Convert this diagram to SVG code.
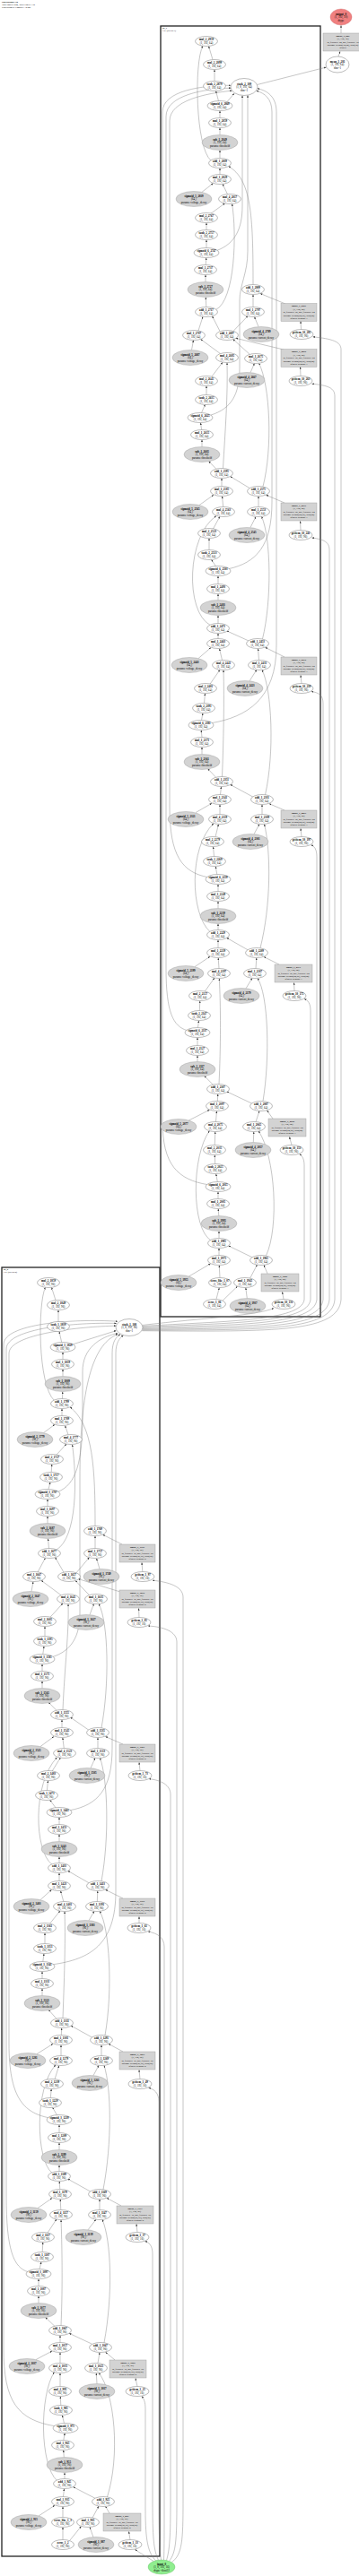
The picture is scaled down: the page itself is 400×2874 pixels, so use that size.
<svg xmlns="http://www.w3.org/2000/svg" width="400" height="2874" viewBox="0 0 400 2874">
<style>
.w{fill:#fff;stroke:#555;stroke-width:.4}
.g{fill:#d3d3d3;stroke:#999;stroke-width:.4}
.b{fill:#d3d3d3;stroke:#999;stroke-width:.4}
.r{fill:#f08080;stroke:#c66;stroke-width:.4}
.gr{fill:#90ee90;stroke:#6b6;stroke-width:.4}
.c{fill:none;stroke:#222;stroke-width:1.3}
text{font-family:"Liberation Serif","Times New Roman",serif;font-size:3.1px;text-anchor:middle;fill:#000}
.n{font-weight:bold}
.s{font-size:2.7px}
.t{text-anchor:start;font-size:2.7px}
#edges path{fill:none;stroke:#808080;stroke-width:.45;marker-end:url(#ah)}
</style>
<defs><marker id="ah" markerWidth="2.4" markerHeight="2" refX="2.4" refY="1" orient="auto" markerUnits="userSpaceOnUse"><path d="M0,0L2.4,1L0,2z" fill="#333"/></marker></defs>
<rect width="400" height="2874" fill="#fff"/>
<g id="title"><text class="t n" x="2" y="3.2">OperationDAG</text><text class="t" x="2" y="6">Total nodes: 244, Total edges: 330</text><text class="t" x="2" y="8.8">Processing at Compile: 14 ms</text></g>
<g id="cluster_lif1"><rect class="c" x="179" y="29" width="178" height="1440"/><text class="t n" x="181" y="32.4">lif_1</text><text class="t" x="181" y="35.2">LIF (layers.1)</text></g>
<g id="cluster_lif0"><rect class="c" x="2" y="1414" width="176" height="1438"/><text class="t n" x="4" y="1417.4">lif_0</text><text class="t" x="4" y="1420.2">LIF (layers.0)</text></g>
<g id="edges">
<path d="M286.5,94.5L363.5,75"/><path d="M377,63L379,57.3"/><path d="M380,37L380,28.3"/>
<path d="M237,66.6L232.5,51.4"/><path d="M235,179C218,165 216,70 226,51.2"/><path d="M253,113.5L261,104.3"/>
<path d="M335.5,367.5L335,358.3"/><path d="M318,339L290,327.5"/><path d="M288,364.5L283.5,353.4"/><path d="M282,342.5L282,328.7"/><path d="M225,214.3L237.5,204.5"/><path d="M253.5,216.7L248,205.2"/><path d="M245,194.5L245,187.7"/><path d="M245,176.5L245,167.7"/><path d="M245,150.5L245,142.7"/><path d="M245,131.5L245,123.7"/><path d="M243.5,112.7L240.5,101.4"/><path d="M239,90.5L239,77.7"/><path d="M282,317.5C282,240 280,200 254.5,185.5"/>
<path d="M235,238.2L250.5,226.9"/><path d="M240.5,345.5C262,335 264,260 258.5,227.4"/><path d="M260,369.4L276,352.6"/>
<path d="M335,419.5L334.5,409.2"/><path d="M316,390L262.5,377.3"/><path d="M279,415.7L283.5,405.4"/><path d="M278.5,395.6L259.5,378.3"/><path d="M213.5,390.5L215.5,379.6"/><path d="M245.5,394.6L223.5,378.4"/><path d="M221,369L226,353.2"/><path d="M245,369.5L236.5,352.8"/><path d="M229.8,342.5L229.3,331.7"/><path d="M229,314.5L229,306.7"/><path d="M229.2,295.5L229.8,287.7"/><path d="M230,276.5L230,267.7"/><path d="M230,256.5L230,248.7"/>
<path d="M235.5,420.7L248,404.3"/><path d="M248.5,522.5C251,480 254,440 253,404.7"/><path d="M293,542.8C304,500 301,430 288.5,405.2"/>
<path d="M335,591.5L334.5,581.3"/><path d="M317,561L296.5,552.3"/><path d="M279,588.5L285,576.5"/><path d="M288,565.5L288,553.7"/><path d="M222,563.6L238,552.2"/><path d="M248.7,565.5L247.5,553.7"/><path d="M247,542.5L247,533.7"/><path d="M278,544.5L256.5,531.5"/><path d="M241,523.3L232.5,514.6"/><path d="M225,498.5L225,490.7"/><path d="M224.6,479.5L223.5,471.7"/><path d="M224.5,460.6L228.5,451.3"/><path d="M230,440.5L230,430.7"/>
<path d="M237.5,590L245,576.2"/><path d="M234,697.3C206,682 208,598 241,575.5"/><path d="M292.5,712.8C303,670 302,600 291.5,576.3"/>
<path d="M336,762.5L335,753.3"/><path d="M317,733L295.5,722.3"/><path d="M278,759.8L286,747.2"/><path d="M288.5,736.5L287.5,723.7"/><path d="M221,734.6L235,722.5"/><path d="M247.5,736.5L244.5,723.7"/><path d="M243,712.5L243,706.7"/><path d="M277.5,715.2L252.5,703.8"/><path d="M243,695.5L243,686.7"/><path d="M243,669.5L243,662.7"/><path d="M243,651.5L243,642.7"/><path d="M240.5,631.8L235.5,624.3"/><path d="M233,613.5L233,600.7"/>
<path d="M234,763.2L245,747.3"/><path d="M247.5,866.5C249,830 250,780 249,747.7"/><path d="M295.5,886.8C306,840 303,770 292,747.3"/>
<path d="M336,933.5L335,924.3"/><path d="M317,904L300,896.7"/><path d="M283,930.7L289,919.4"/><path d="M292,908.5L292,897.7"/><path d="M218,906.6L236,896.2"/><path d="M245,908.5L245,897.7"/><path d="M245.5,886.5L246.5,877.7"/><path d="M282,889.2L256.5,875.3"/><path d="M240.5,867.2L231.5,857.6"/><path d="M225,841.5L225,833.7"/><path d="M225,822.5L224.2,814.7"/><path d="M224.5,803.5L226,795.7"/><path d="M227.5,784.5L228.5,773.7"/>
<path d="M240,933.6L243.5,919.6"/><path d="M234,1039.5C212,1020 210,945 238,918.8"/><path d="M290,1057.7C302,1010 302,950 294.5,919.5"/>
<path d="M328,1105.5L327.5,1096.3"/><path d="M311,1076L294,1067.5"/><path d="M274,1102.8L281,1091.3"/><path d="M285,1080.5L285.8,1068.7"/><path d="M217,1078.6L234,1067.2"/><path d="M244,1080.5L243.2,1068.7"/><path d="M243,1057.5L243,1048.7"/><path d="M276.5,1060L252.5,1046.3"/><path d="M243,1037.5L243,1030.7"/><path d="M243,1013.5L243,1005.7"/><path d="M243,994.5L243,986.7"/><path d="M241.8,975.6L240.2,966.7"/><path d="M238.5,955.5L237.5,944.7"/>
<path d="M228,1106.4L239,1091"/><path d="M244,1209.5C246,1170 246,1120 244.3,1091.7"/><path d="M293,1228.5C301,1180 299,1110 287,1091.4"/>
<path d="M325,1277.5L322.5,1268.3"/><path d="M304,1248L297.5,1239"/><path d="M282.3,1274.5L282.8,1262.7"/><path d="M285,1251.7L289,1239.4"/><path d="M210,1250.2L233.5,1238.2"/><path d="M240.5,1251.5L241.5,1239.7"/><path d="M242.3,1228.5L242.8,1220.7"/><path d="M281.5,1231.5L252.5,1217.8"/><path d="M237.5,1210.3L227.5,1200.2"/><path d="M220,1184.5L220,1177.7"/><path d="M220,1166.5L220,1157.7"/><path d="M220.5,1146.5L221.5,1138.7"/><path d="M222.3,1127.5L222.8,1116.7"/>
<path d="M239.2,1277.5L239.8,1262.7"/><path d="M235,1384C213,1370 213,1290 233.5,1261.5"/><path d="M296.5,1400.8C311,1370 307,1290 288,1261.7"/>
<path d="M241,1449.5L244.3,1436.7"/><path d="M248,1451.2L264.5,1435.1"/><path d="M275.3,1448.5L273.8,1436.7"/><path d="M316,1449.5L314.5,1441.3"/><path d="M298,1421L294,1411.3"/><path d="M278.5,1426.3L286.5,1411.1"/><path d="M210,1424.3L234.5,1409.9"/><path d="M245,1425.5L244.3,1411.7"/><path d="M244,1400.5L244,1392.7"/><path d="M281.5,1403L254.5,1389.9"/><path d="M244,1381.5L244,1373.7"/><path d="M243.8,1356.5L243.2,1348.7"/><path d="M243,1337.5L243,1329.7"/><path d="M242.3,1318.5L240.7,1309.7"/><path d="M239.7,1298.5L239.3,1288.7"/>
<path d="M241.5,279.5C262,272 270,255 270,230L270,106.5"/>
<path d="M234.5,463.2C258,456 267,440 267,410L267,335C267,318 276,305 276,280L276,106.3"/>
<path d="M254.5,634.7C285,628 303,610 303,560L303,125C303,110 295,104 285.5,101.2"/>
<path d="M235.5,806.7C275,800 308,780 308,720L308,125C308,108 298,101 286.8,98.8"/>
<path d="M231.5,978.7C203,973 189,955 189,900L189,135C189,112 230,104 258.5,101.2"/>
<path d="M208.5,1149.7C193,1145 185,1130 185,1080L185,130C185,106 228,99 257.3,98.2"/>
<path d="M231.5,1321.7C198,1316 181,1300 181,1250L181,125C181,101 226,95 257,95.3"/>
<path d="M158.5,1478.5C230,1470 285,1468 305,1459.6"/>
<path d="M158.8,1479.5C250,1474 336,1474 339,1450L339,1300C339,1292 336,1289 333.5,1287.6"/>
<path d="M158.8,1480.5C260,1476 343,1476 346,1450L346,1128C346,1119 343,1116 339,1114.5"/>
<path d="M158.8,1481.5C270,1478 350,1478 353,1450L353,956C353,947 350,944 346.5,942.8"/>
<path d="M158.8,1482.5C280,1480 357,1480 360,1450L360,785C360,776 356,773 347,771.5"/>
<path d="M158.8,1483.3C290,1482 364,1482 367,1450L367,614C367,605 362,602 347.5,600"/>
<path d="M158.5,1484C300,1484 370,1484 373,1450L373,442C373,433 366,430 347.5,428.2"/>
<path d="M158.3,1484.7C310,1486 377,1486 380,1450L380,390C380,381 370,378 348.5,375.8"/>
<path d="M171,2857.5C163,2852 155,2848 150.5,2844.3"/>
<path d="M173.5,2856.8C165,2848 162,2835 162,2800L162,2688C162,2679 160,2676 158,2673.5"/>
<path d="M176.5,2856.3C171,2845 170,2830 170,2790L170,2515C170,2505 166,2502 161.5,2500.5"/>
<path d="M179.5,2856C178,2845 177,2830 177,2790L177,2345C177,2335 172,2331 165.5,2329.3"/>
<path d="M182.5,2856.1C183,2845 183,2830 183,2790L183,2172C183,2162 176,2157 165,2155"/>
<path d="M185.5,2856.5C189,2845 190,2830 190,2790L190,2002C190,1992 180,1986 166,1984.7"/>
<path d="M188.5,2857.3C196,2848 197,2835 197,2790L197,1832C197,1820 182,1815 165,1814"/>
<path d="M191.5,2858.5C203,2850 204,2835 204,2790L204,1782C204,1770 188,1765 170,1763.2"/>
<path d="M80.5,1500L129.5,1484.6"/>
<path d="M64,1664.5C85,1657 92,1630 92,1580L92,1530C92,1505 110,1492 131,1487.5"/>
<path d="M58,1848.7C80,1842 89,1825 89,1800L89,1650C89,1560 100,1500 131.5,1488.5"/>
<path d="M77.5,2019.8C110,2014 125,1995 125,1950L125,1510C125,1497 129,1492 134,1488.5"/>
<path d="M58.5,2191.8C100,2186 129,2170 129,2110L129,1510C129,1498 133,1493 137.5,1489.8"/>
<path d="M54.5,2362.8C26,2357 10,2340 10,2280L10,1510C10,1488 90,1480 129.3,1479.2"/>
<path d="M31.5,2534.8C15,2530 7,2510 7,2450L7,1505C7,1482 85,1475 129.8,1476.5"/>
<path d="M61.5,2706.8C20,2700 4,2680 4,2620L4,1500C4,1477 80,1471 131,1474.2"/>
<path d="M60.5,1562.6C42,1545 42,1455 50.5,1436.3"/><path d="M62,1450.8L57.5,1436.3"/>
<path d="M158.8,1753.5L158,1743.3"/><path d="M136,1723L114.5,1712.2"/><path d="M111,1750.5L107.5,1738.7"/><path d="M106,1727.5L106,1713.7"/><path d="M48.5,1598.6L61,1589.3"/><path d="M76,1600.6L72.5,1590.5"/><path d="M69,1579.5L69,1571.7"/><path d="M69.5,1560.5L69.8,1552.7"/><path d="M70,1535.5L70,1527.7"/><path d="M70,1516.5L70,1508.7"/><path d="M68.7,1497.6L66,1485.6"/><path d="M65,1474.5L65,1461.7"/><path d="M106,1702.5C106,1640 104,1590 78,1569.8"/>
<path d="M63,1623L74,1611"/><path d="M63,1729C86,1715 86,1650 80.5,1611.7"/><path d="M85,1754.8L99.5,1737.6"/>
<path d="M155,1804.5L154.5,1794.3"/><path d="M134,1776L87,1761.5"/><path d="M100,1801.6L104.5,1789.3"/><path d="M99.5,1779.6L84,1763.5"/><path d="M35,1775.5L37,1764.7"/><path d="M68,1779.7L46,1763.3"/><path d="M42,1754L50.5,1738.2"/><path d="M71,1754.2L61.5,1737.6"/><path d="M54.5,1727.5L53.5,1716.7"/><path d="M53,1699.5L53,1691.7"/><path d="M53,1680.5L53,1672.7"/><path d="M54,1661.5L56,1653.7"/><path d="M57.2,1642.5L57.8,1633.7"/>
<path d="M56,1804.2L70,1788.8"/><path d="M70,1907.5C72,1860 77,1820 76,1789.7"/><path d="M113,1927.8C122,1880 121,1810 110,1789.3"/>
<path d="M156,1975.5L155,1966.3"/><path d="M137,1946L117.5,1937.5"/><path d="M101,1972.7L106,1961.3"/><path d="M109,1950.5L109,1938.7"/><path d="M45,1948.6L60,1937.4"/><path d="M71.3,1950.5L69.8,1938.7"/><path d="M69,1927.5L69,1918.7"/><path d="M99,1930.3L78.5,1916"/><path d="M63,1908.3L54,1899.2"/><path d="M47,1883.5L47,1875.7"/><path d="M47,1864.5L47,1856.7"/><path d="M47.8,1845.5L49,1836.7"/><path d="M50,1825.5L50,1814.7"/>
<path d="M58,1976.2L67.5,1960.8"/><path d="M58,2080.3C38,2065 36,1990 63.5,1960.7"/><path d="M113,2098.8C122,2050 120,1985 111.5,1961.3"/>
<path d="M155,2145.5L155,2138.3"/><path d="M137,2118L117.5,2108.3"/><path d="M99,2142.6L105,2132.3"/><path d="M108.3,2121.5L108.8,2109.7"/><path d="M45,2119.6L57.5,2108.3"/><path d="M70.8,2121.5L67.5,2109.6"/><path d="M66,2098.5L66,2089.7"/><path d="M99.5,2101L75.5,2087.2"/><path d="M66,2078.5L66,2071.7"/><path d="M66,2054.5L66,2046.7"/><path d="M66,2035.5L66,2027.7"/><path d="M62,2016.8L55.5,2008.2"/><path d="M52.4,1997.5L53.5,1986.7"/>
<path d="M55.5,2146.2L67,2131.8"/><path d="M70,2251.5C72,2200 73,2160 72,2132.7"/><path d="M117,2270.8C126,2220 122,2150 111,2132.3"/>
<path d="M156,2319.5L155,2309.3"/><path d="M137,2289L121,2280.3"/><path d="M104,2315.7L110,2304.3"/><path d="M113,2293.5L113,2281.7"/><path d="M41,2291.6L59,2280.3"/><path d="M68,2293.5L68,2281.7"/><path d="M68.3,2270.5L68.7,2262.7"/><path d="M103,2273.3L79,2260"/><path d="M63,2252.3L54,2242.2"/><path d="M47,2226.5L47,2218.7"/><path d="M47,2207.5L47,2199.7"/><path d="M47.8,2188.5L49,2179.7"/><path d="M50,2168.5L50,2156.7"/>
<path d="M61,2319.8L65.8,2304.5"/><path d="M58,2424.3C40,2410 38,2330 62,2303.8"/><path d="M115,2442.8C125,2390 124,2330 116,2304.3"/>
<path d="M153,2490.5L152,2481.3"/><path d="M135,2461L119,2452.3"/><path d="M98,2487.8L107,2476.2"/><path d="M111,2465.5L111,2453.7"/><path d="M42,2463.6L58,2452.4"/><path d="M67.8,2465.5L67.2,2453.7"/><path d="M66.8,2442.5L66.2,2433.7"/><path d="M101,2445.2L75.5,2431"/><path d="M66,2422.5L66,2415.7"/><path d="M66,2398.5L66,2390.7"/><path d="M66,2379.5L66,2370.7"/><path d="M63.5,2359.7L58.5,2351.3"/><path d="M56.3,2340.5L57.2,2330.7"/>
<path d="M53,2491.2L63,2475.8"/><path d="M68,2594.5C70,2550 69,2500 68,2476.7"/><path d="M116,2613.8C126,2560 124,2500 114,2476.3"/>
<path d="M153,2662.5L151,2653.3"/><path d="M128,2633L117.5,2624.2"/><path d="M108,2659.5L107.3,2647.7"/><path d="M109,2636.5L111,2624.6"/><path d="M40,2632.6L58,2623"/><path d="M67,2636.5L67,2624.7"/><path d="M67,2613.5L67,2605.7"/><path d="M102.5,2615.2L77,2603.2"/><path d="M61,2595.4L50.5,2585.3"/><path d="M43,2569.5L43,2561.7"/><path d="M43,2550.5L43,2542.7"/><path d="M44,2531.5L46,2523.7"/><path d="M47.2,2512.5L47.8,2501.7"/>
<path d="M67,2662.5L67,2647.7"/><path d="M63.5,2767.5C44,2750 44,2672 60.5,2646.5"/><path d="M119.5,2785.8C134,2740 128,2670 110,2647.3"/>
<path d="M70,2833.5L70,2819.7"/><path d="M77.5,2834.6L90.5,2818.6"/><path d="M104,2830.8L100,2819.3"/><path d="M145,2833.5L143.5,2824.3"/><path d="M122,2804L117.5,2796.3"/><path d="M103,2809L110,2796.1"/><path d="M43,2807L61,2795.2"/><path d="M70,2808.5L70,2796.7"/><path d="M70.5,2785.5L71.5,2776.7"/><path d="M106,2787.3L81.5,2774.6"/><path d="M72,2765.5L72,2758.7"/><path d="M71.3,2741.5L70.7,2733.7"/><path d="M70.8,2722.5L72.2,2714.7"/><path d="M71.5,2703.6L69.3,2694.7"/><path d="M67.8,2683.5L67.3,2673.7"/>
</g>
<g id="output_0" transform="translate(380,19)"><ellipse class="r" rx="12" ry="9"/><text class="n" y="-2.4">output_0</text><text y="1.3">(1, 192, 10)</text><text y="5">dtype</text></g>
<g id="linear_3_283" transform="translate(382,47)"><rect class="b" x="-22" y="-10" width="44" height="20"/><text class="s n" y="-6.2">linear_3_283</text><text class="s" y="-2.8">(1, 192, 10)</text><text class="s" y="0.6">in_features=64, out_features=10</text><text class="s" y="4">params: weight(10,64), bias(10)</text><text class="s" y="7.4">dfused</text></g>
<g id="mean_1_281" transform="translate(376,72)"><ellipse class="w" rx="13" ry="9"/><text class="n" y="-2.4">mean_1_281</text><text y="1.3">(1, 192, 64)</text><text y="5">dim=1</text></g>
<g id="stack_2_109" transform="translate(272,97)"><ellipse class="w" rx="15" ry="9.5"/><text class="n" y="-2.4">stack_2_109</text><text y="1.3">(1, 8, 192, 64)</text><text y="5">dim=1</text></g>
<g id="u8_top" transform="translate(230,46)"><ellipse class="w" rx="12.5" ry="5.5"/><text class="n" y="-.6">mul_2_2959</text><text y="3.1">(1, 192, 64)</text></g>
<g id="u8_m2" transform="translate(239,72)"><ellipse class="w" rx="12.5" ry="5.5"/><text class="n" y="-.6">mul_2_2899</text><text y="3.1">(1, 192, 64)</text></g>
<g id="u8_th" transform="translate(239,96)"><ellipse class="w" rx="12.5" ry="5.5"/><text class="n" y="-.6">tanh_2_2879</text><text y="3.1">(1, 192, 64)</text></g>
<g id="u8_sg" transform="translate(245,118)"><ellipse class="w" rx="14" ry="5.5"/><text class="n" y="-.6">sigmoid_6_2869</text><text y="3.1">(1, 192, 64)</text></g>
<g id="u8_m1" transform="translate(245,137)"><ellipse class="w" rx="12.5" ry="5.5"/><text class="n" y="-.6">mul_1_2859</text><text y="3.1">(1, 192, 64)</text></g>
<g id="u8_sub" transform="translate(245,159)"><ellipse class="g" rx="20" ry="8.5"/><text class="n" y="-2.4">sub_1_2849</text><text y="1.3">(1, 192, 64)</text><text y="5">params: threshold</text></g>
<g id="u8_av" transform="translate(245,182)"><ellipse class="w" rx="12.5" ry="5.5"/><text class="n" y="-.6">add_1_2839</text><text y="3.1">(1, 192, 64)</text></g>
<g id="u8_mv" transform="translate(245,200)"><ellipse class="w" rx="12.5" ry="5.5"/><text class="n" y="-.6">mul_1_2829</text><text y="3.1">(1, 192, 64)</text></g>
<g id="u8_gv" transform="translate(216,222)"><ellipse class="g" rx="20" ry="8.5"/><text class="n" y="-2.4">sigmoid_5_2819</text><text y="1.3">(64,)</text><text y="5">params: voltage_decay</text></g>
<g id="u8_mvp" transform="translate(256,222)"><ellipse class="w" rx="12.5" ry="5.5"/><text class="n" y="-.6">mul_4_2817</text><text y="3.1">(1, 192, 64)</text></g>
<g id="u8_ai" transform="translate(282,323)"><ellipse class="w" rx="12.5" ry="5.5"/><text class="n" y="-.6">add_1_2809</text><text y="3.1">(1, 192, 64)</text></g>
<g id="u8_mc" transform="translate(282,348)"><ellipse class="w" rx="12.5" ry="5.5"/><text class="n" y="-.6">mul_1_2797</text><text y="3.1">(1, 192, 64)</text></g>
<g id="u8_gc" transform="translate(291,373)"><ellipse class="g" rx="20" ry="8.5"/><text class="n" y="-2.4">sigmoid_4_2789</text><text y="1.3">(64,)</text><text y="5">params: current_decay</text></g>
<g id="u8_bx" transform="translate(333,348.5)"><rect class="b" x="-20" y="-10" width="40" height="20"/><text class="s n" y="-6.2">linear_1_2781</text><text class="s" y="-2.8">(1, 192, 64)</text><text class="s" y="0.6">in_features=96, out_features=64</text><text class="s" y="4">params: weight(64,96), bias(64)</text><text class="s" y="7.4">dfused: synapse.1</text></g>
<g id="u8_gi" transform="translate(336,373)"><ellipse class="w" rx="13" ry="5.5"/><text class="n" y="-.6">getitem_10_285</text><text y="3.1">(1, 192, 96)</text></g>
<g id="u7_m2" transform="translate(230,243)"><ellipse class="w" rx="12.5" ry="5.5"/><text class="n" y="-.6">mul_2_2767</text><text y="3.1">(1, 192, 64)</text></g>
<g id="u7_th" transform="translate(230,262)"><ellipse class="w" rx="12.5" ry="5.5"/><text class="n" y="-.6">tanh_2_2757</text><text y="3.1">(1, 192, 64)</text></g>
<g id="u7_sg" transform="translate(230,282)"><ellipse class="w" rx="14" ry="5.5"/><text class="n" y="-.6">sigmoid_6_2747</text><text y="3.1">(1, 192, 64)</text></g>
<g id="u7_m1" transform="translate(229,301)"><ellipse class="w" rx="12.5" ry="5.5"/><text class="n" y="-.6">mul_1_2737</text><text y="3.1">(1, 192, 64)</text></g>
<g id="u7_sub" transform="translate(229,323)"><ellipse class="g" rx="20" ry="8.5"/><text class="n" y="-2.4">sub_1_2727</text><text y="1.3">(1, 192, 64)</text><text y="5">params: threshold</text></g>
<g id="u7_av" transform="translate(230,348)"><ellipse class="w" rx="12.5" ry="5.5"/><text class="n" y="-.6">add_1_2717</text><text y="3.1">(1, 192, 64)</text></g>
<g id="u7_mv" transform="translate(216,374)"><ellipse class="w" rx="12.5" ry="5.5"/><text class="n" y="-.6">mul_1_2707</text><text y="3.1">(1, 192, 64)</text></g>
<g id="u7_ai" transform="translate(253,374)"><ellipse class="w" rx="12.5" ry="5.5"/><text class="n" y="-.6">add_1_2697</text><text y="3.1">(1, 192, 64)</text></g>
<g id="u7_gv" transform="translate(212,399)"><ellipse class="g" rx="20" ry="8.5"/><text class="n" y="-2.4">sigmoid_5_2687</text><text y="1.3">(64,)</text><text y="5">params: voltage_decay</text></g>
<g id="u7_mvp" transform="translate(253,399)"><ellipse class="w" rx="12.5" ry="5.5"/><text class="n" y="-.6">mul_4_2685</text><text y="3.1">(1, 192, 64)</text></g>
<g id="u7_mc" transform="translate(285,400)"><ellipse class="w" rx="12.5" ry="5.5"/><text class="n" y="-.6">mul_1_2675</text><text y="3.1">(1, 192, 64)</text></g>
<g id="u7_gc" transform="translate(275,424)"><ellipse class="g" rx="20" ry="8.5"/><text class="n" y="-2.4">sigmoid_4_2667</text><text y="1.3">(64,)</text><text y="5">params: current_decay</text></g>
<g id="u7_bx" transform="translate(333,399.5)"><rect class="b" x="-20" y="-10" width="40" height="20"/><text class="s n" y="-6.2">linear_1_2659</text><text class="s" y="-2.8">(1, 192, 64)</text><text class="s" y="0.6">in_features=96, out_features=64</text><text class="s" y="4">params: weight(64,96), bias(64)</text><text class="s" y="7.4">dfused: synapse.1</text></g>
<g id="u7_gi" transform="translate(335,425)"><ellipse class="w" rx="13" ry="5.5"/><text class="n" y="-.6">getitem_10_263</text><text y="3.1">(1, 192, 96)</text></g>
<g id="u6_m2" transform="translate(230,425)"><ellipse class="w" rx="12.5" ry="5.5"/><text class="n" y="-.6">mul_2_2645</text><text y="3.1">(1, 192, 64)</text></g>
<g id="u6_th" transform="translate(230,446)"><ellipse class="w" rx="12.5" ry="5.5"/><text class="n" y="-.6">tanh_2_2635</text><text y="3.1">(1, 192, 64)</text></g>
<g id="u6_sg" transform="translate(223,466)"><ellipse class="w" rx="14" ry="5.5"/><text class="n" y="-.6">sigmoid_6_2625</text><text y="3.1">(1, 192, 64)</text></g>
<g id="u6_m1" transform="translate(225,485)"><ellipse class="w" rx="12.5" ry="5.5"/><text class="n" y="-.6">mul_1_2615</text><text y="3.1">(1, 192, 64)</text></g>
<g id="u6_sub" transform="translate(225,507)"><ellipse class="g" rx="20" ry="8.5"/><text class="n" y="-2.4">sub_1_2605</text><text y="1.3">(1, 192, 64)</text><text y="5">params: threshold</text></g>
<g id="u6_av" transform="translate(247,528)"><ellipse class="w" rx="12.5" ry="5.5"/><text class="n" y="-.6">add_1_2595</text><text y="3.1">(1, 192, 64)</text></g>
<g id="u6_mv" transform="translate(247,548)"><ellipse class="w" rx="12.5" ry="5.5"/><text class="n" y="-.6">mul_1_2585</text><text y="3.1">(1, 192, 64)</text></g>
<g id="u6_ai" transform="translate(288,548)"><ellipse class="w" rx="12.5" ry="5.5"/><text class="n" y="-.6">add_1_2575</text><text y="3.1">(1, 192, 64)</text></g>
<g id="u6_gv" transform="translate(212,571)"><ellipse class="g" rx="20" ry="8.5"/><text class="n" y="-2.4">sigmoid_5_2565</text><text y="1.3">(64,)</text><text y="5">params: voltage_decay</text></g>
<g id="u6_mvp" transform="translate(249,571)"><ellipse class="w" rx="12.5" ry="5.5"/><text class="n" y="-.6">mul_4_2563</text><text y="3.1">(1, 192, 64)</text></g>
<g id="u6_mc" transform="translate(288,571)"><ellipse class="w" rx="12.5" ry="5.5"/><text class="n" y="-.6">mul_1_2553</text><text y="3.1">(1, 192, 64)</text></g>
<g id="u6_gc" transform="translate(275,597)"><ellipse class="g" rx="20" ry="8.5"/><text class="n" y="-2.4">sigmoid_4_2545</text><text y="1.3">(64,)</text><text y="5">params: current_decay</text></g>
<g id="u6_bx" transform="translate(333,571)"><rect class="b" x="-20" y="-10" width="40" height="20"/><text class="s n" y="-6.2">linear_1_2537</text><text class="s" y="-2.8">(1, 192, 64)</text><text class="s" y="0.6">in_features=96, out_features=64</text><text class="s" y="4">params: weight(64,96), bias(64)</text><text class="s" y="7.4">dfused: synapse.1</text></g>
<g id="u6_gi" transform="translate(335,597)"><ellipse class="w" rx="13" ry="5.5"/><text class="n" y="-.6">getitem_10_241</text><text y="3.1">(1, 192, 96)</text></g>
<g id="u5_m2" transform="translate(233,595)"><ellipse class="w" rx="12.5" ry="5.5"/><text class="n" y="-.6">mul_2_2523</text><text y="3.1">(1, 192, 64)</text></g>
<g id="u5_th" transform="translate(233,619)"><ellipse class="w" rx="12.5" ry="5.5"/><text class="n" y="-.6">tanh_2_2513</text><text y="3.1">(1, 192, 64)</text></g>
<g id="u5_sg" transform="translate(243,637)"><ellipse class="w" rx="14" ry="5.5"/><text class="n" y="-.6">sigmoid_6_2503</text><text y="3.1">(1, 192, 64)</text></g>
<g id="u5_m1" transform="translate(243,657)"><ellipse class="w" rx="12.5" ry="5.5"/><text class="n" y="-.6">mul_1_2493</text><text y="3.1">(1, 192, 64)</text></g>
<g id="u5_sub" transform="translate(243,678)"><ellipse class="g" rx="20" ry="8.5"/><text class="n" y="-2.4">sub_1_2483</text><text y="1.3">(1, 192, 64)</text><text y="5">params: threshold</text></g>
<g id="u5_av" transform="translate(243,701)"><ellipse class="w" rx="12.5" ry="5.5"/><text class="n" y="-.6">add_1_2473</text><text y="3.1">(1, 192, 64)</text></g>
<g id="u5_mv" transform="translate(243,718)"><ellipse class="w" rx="12.5" ry="5.5"/><text class="n" y="-.6">mul_1_2463</text><text y="3.1">(1, 192, 64)</text></g>
<g id="u5_ai" transform="translate(287,718)"><ellipse class="w" rx="12.5" ry="5.5"/><text class="n" y="-.6">add_1_2453</text><text y="3.1">(1, 192, 64)</text></g>
<g id="u5_gv" transform="translate(211,742)"><ellipse class="g" rx="20" ry="8.5"/><text class="n" y="-2.4">sigmoid_5_2443</text><text y="1.3">(64,)</text><text y="5">params: voltage_decay</text></g>
<g id="u5_mvp" transform="translate(249,742)"><ellipse class="w" rx="12.5" ry="5.5"/><text class="n" y="-.6">mul_4_2441</text><text y="3.1">(1, 192, 64)</text></g>
<g id="u5_mc" transform="translate(289,742)"><ellipse class="w" rx="12.5" ry="5.5"/><text class="n" y="-.6">mul_1_2431</text><text y="3.1">(1, 192, 64)</text></g>
<g id="u5_gc" transform="translate(273,768)"><ellipse class="g" rx="20" ry="8.5"/><text class="n" y="-2.4">sigmoid_4_2423</text><text y="1.3">(64,)</text><text y="5">params: current_decay</text></g>
<g id="u5_bx" transform="translate(333,743)"><rect class="b" x="-20" y="-10" width="40" height="20"/><text class="s n" y="-6.2">linear_1_2415</text><text class="s" y="-2.8">(1, 192, 64)</text><text class="s" y="0.6">in_features=96, out_features=64</text><text class="s" y="4">params: weight(64,96), bias(64)</text><text class="s" y="7.4">dfused: synapse.1</text></g>
<g id="u5_gi" transform="translate(336,768)"><ellipse class="w" rx="13" ry="5.5"/><text class="n" y="-.6">getitem_10_219</text><text y="3.1">(1, 192, 96)</text></g>
<g id="u4_m2" transform="translate(229,768)"><ellipse class="w" rx="12.5" ry="5.5"/><text class="n" y="-.6">mul_2_2401</text><text y="3.1">(1, 192, 64)</text></g>
<g id="u4_th" transform="translate(227,790)"><ellipse class="w" rx="12.5" ry="5.5"/><text class="n" y="-.6">tanh_2_2391</text><text y="3.1">(1, 192, 64)</text></g>
<g id="u4_sg" transform="translate(224,809)"><ellipse class="w" rx="14" ry="5.5"/><text class="n" y="-.6">sigmoid_6_2381</text><text y="3.1">(1, 192, 64)</text></g>
<g id="u4_m1" transform="translate(225,828)"><ellipse class="w" rx="12.5" ry="5.5"/><text class="n" y="-.6">mul_1_2371</text><text y="3.1">(1, 192, 64)</text></g>
<g id="u4_sub" transform="translate(225,850)"><ellipse class="g" rx="20" ry="8.5"/><text class="n" y="-2.4">sub_1_2361</text><text y="1.3">(1, 192, 64)</text><text y="5">params: threshold</text></g>
<g id="u4_av" transform="translate(247,872)"><ellipse class="w" rx="12.5" ry="5.5"/><text class="n" y="-.6">add_1_2351</text><text y="3.1">(1, 192, 64)</text></g>
<g id="u4_mv" transform="translate(245,892)"><ellipse class="w" rx="12.5" ry="5.5"/><text class="n" y="-.6">mul_1_2341</text><text y="3.1">(1, 192, 64)</text></g>
<g id="u4_ai" transform="translate(292,892)"><ellipse class="w" rx="12.5" ry="5.5"/><text class="n" y="-.6">add_1_2331</text><text y="3.1">(1, 192, 64)</text></g>
<g id="u4_gv" transform="translate(207,914)"><ellipse class="g" rx="20" ry="8.5"/><text class="n" y="-2.4">sigmoid_5_2321</text><text y="1.3">(64,)</text><text y="5">params: voltage_decay</text></g>
<g id="u4_mvp" transform="translate(245,914)"><ellipse class="w" rx="12.5" ry="5.5"/><text class="n" y="-.6">mul_4_2319</text><text y="3.1">(1, 192, 64)</text></g>
<g id="u4_mc" transform="translate(292,914)"><ellipse class="w" rx="12.5" ry="5.5"/><text class="n" y="-.6">mul_1_2309</text><text y="3.1">(1, 192, 64)</text></g>
<g id="u4_gc" transform="translate(279,939)"><ellipse class="g" rx="20" ry="8.5"/><text class="n" y="-2.4">sigmoid_4_2301</text><text y="1.3">(64,)</text><text y="5">params: current_decay</text></g>
<g id="u4_bx" transform="translate(333,914)"><rect class="b" x="-20" y="-10" width="40" height="20"/><text class="s n" y="-6.2">linear_1_2293</text><text class="s" y="-2.8">(1, 192, 64)</text><text class="s" y="0.6">in_features=96, out_features=64</text><text class="s" y="4">params: weight(64,96), bias(64)</text><text class="s" y="7.4">dfused: synapse.1</text></g>
<g id="u4_gi" transform="translate(336,939)"><ellipse class="w" rx="13" ry="5.5"/><text class="n" y="-.6">getitem_10_197</text><text y="3.1">(1, 192, 96)</text></g>
<g id="u3_m2" transform="translate(237,939)"><ellipse class="w" rx="12.5" ry="5.5"/><text class="n" y="-.6">mul_2_2279</text><text y="3.1">(1, 192, 64)</text></g>
<g id="u3_th" transform="translate(239,961)"><ellipse class="w" rx="12.5" ry="5.5"/><text class="n" y="-.6">tanh_2_2269</text><text y="3.1">(1, 192, 64)</text></g>
<g id="u3_sg" transform="translate(243,981)"><ellipse class="w" rx="14" ry="5.5"/><text class="n" y="-.6">sigmoid_6_2259</text><text y="3.1">(1, 192, 64)</text></g>
<g id="u3_m1" transform="translate(243,1000)"><ellipse class="w" rx="12.5" ry="5.5"/><text class="n" y="-.6">mul_1_2249</text><text y="3.1">(1, 192, 64)</text></g>
<g id="u3_sub" transform="translate(243,1022)"><ellipse class="g" rx="20" ry="8.5"/><text class="n" y="-2.4">sub_1_2239</text><text y="1.3">(1, 192, 64)</text><text y="5">params: threshold</text></g>
<g id="u3_av" transform="translate(243,1043)"><ellipse class="w" rx="12.5" ry="5.5"/><text class="n" y="-.6">add_1_2229</text><text y="3.1">(1, 192, 64)</text></g>
<g id="u3_mv" transform="translate(243,1063)"><ellipse class="w" rx="12.5" ry="5.5"/><text class="n" y="-.6">mul_1_2219</text><text y="3.1">(1, 192, 64)</text></g>
<g id="u3_ai" transform="translate(286,1063)"><ellipse class="w" rx="12.5" ry="5.5"/><text class="n" y="-.6">add_1_2209</text><text y="3.1">(1, 192, 64)</text></g>
<g id="u3_gv" transform="translate(207,1086)"><ellipse class="g" rx="20" ry="8.5"/><text class="n" y="-2.4">sigmoid_5_2199</text><text y="1.3">(64,)</text><text y="5">params: voltage_decay</text></g>
<g id="u3_mvp" transform="translate(244,1086)"><ellipse class="w" rx="12.5" ry="5.5"/><text class="n" y="-.6">mul_4_2197</text><text y="3.1">(1, 192, 64)</text></g>
<g id="u3_mc" transform="translate(284,1086)"><ellipse class="w" rx="12.5" ry="5.5"/><text class="n" y="-.6">mul_1_2187</text><text y="3.1">(1, 192, 64)</text></g>
<g id="u3_gc" transform="translate(269,1111)"><ellipse class="g" rx="20" ry="8.5"/><text class="n" y="-2.4">sigmoid_4_2179</text><text y="1.3">(64,)</text><text y="5">params: current_decay</text></g>
<g id="u3_bx" transform="translate(327,1086)"><rect class="b" x="-21" y="-10" width="42" height="20"/><text class="s n" y="-6.2">linear_1_2171</text><text class="s" y="-2.8">(1, 192, 64)</text><text class="s" y="0.6">in_features=96, out_features=64</text><text class="s" y="4">params: weight(64,96), bias(64)</text><text class="s" y="7.4">dfused: synapse.1</text></g>
<g id="u3_gi" transform="translate(328,1111)"><ellipse class="w" rx="13" ry="5.5"/><text class="n" y="-.6">getitem_10_175</text><text y="3.1">(1, 192, 96)</text></g>
<g id="u2_m2" transform="translate(223,1111)"><ellipse class="w" rx="12.5" ry="5.5"/><text class="n" y="-.6">mul_2_2157</text><text y="3.1">(1, 192, 64)</text></g>
<g id="u2_th" transform="translate(222,1133)"><ellipse class="w" rx="12.5" ry="5.5"/><text class="n" y="-.6">tanh_2_2147</text><text y="3.1">(1, 192, 64)</text></g>
<g id="u2_sg" transform="translate(220,1152)"><ellipse class="w" rx="14" ry="5.5"/><text class="n" y="-.6">sigmoid_6_2137</text><text y="3.1">(1, 192, 64)</text></g>
<g id="u2_m1" transform="translate(220,1172)"><ellipse class="w" rx="12.5" ry="5.5"/><text class="n" y="-.6">mul_1_2127</text><text y="3.1">(1, 192, 64)</text></g>
<g id="u2_sub" transform="translate(220,1193)"><ellipse class="g" rx="20" ry="8.5"/><text class="n" y="-2.4">sub_1_2117</text><text y="1.3">(1, 192, 64)</text><text y="5">params: threshold</text></g>
<g id="u2_av" transform="translate(243,1215)"><ellipse class="w" rx="12.5" ry="5.5"/><text class="n" y="-.6">add_1_2107</text><text y="3.1">(1, 192, 64)</text></g>
<g id="u2_mv" transform="translate(242,1234)"><ellipse class="w" rx="12.5" ry="5.5"/><text class="n" y="-.6">mul_1_2097</text><text y="3.1">(1, 192, 64)</text></g>
<g id="u2_ai" transform="translate(291,1234)"><ellipse class="w" rx="12.5" ry="5.5"/><text class="n" y="-.6">add_1_2087</text><text y="3.1">(1, 192, 64)</text></g>
<g id="u2_gv" transform="translate(199,1257)"><ellipse class="g" rx="20" ry="8.5"/><text class="n" y="-2.4">sigmoid_5_2077</text><text y="1.3">(64,)</text><text y="5">params: voltage_decay</text></g>
<g id="u2_mvp" transform="translate(240,1257)"><ellipse class="w" rx="12.5" ry="5.5"/><text class="n" y="-.6">mul_4_2075</text><text y="3.1">(1, 192, 64)</text></g>
<g id="u2_mc" transform="translate(283,1257)"><ellipse class="w" rx="12.5" ry="5.5"/><text class="n" y="-.6">mul_1_2065</text><text y="3.1">(1, 192, 64)</text></g>
<g id="u2_gc" transform="translate(282,1283)"><ellipse class="g" rx="20" ry="8.5"/><text class="n" y="-2.4">sigmoid_4_2057</text><text y="1.3">(64,)</text><text y="5">params: current_decay</text></g>
<g id="u2_bx" transform="translate(320,1258)"><rect class="b" x="-21" y="-10" width="42" height="20"/><text class="s n" y="-6.2">linear_1_2049</text><text class="s" y="-2.8">(1, 192, 64)</text><text class="s" y="0.6">in_features=96, out_features=64</text><text class="s" y="4">params: weight(64,96), bias(64)</text><text class="s" y="7.4">dfused: synapse.1</text></g>
<g id="u2_gi" transform="translate(325,1283)"><ellipse class="w" rx="13" ry="5.5"/><text class="n" y="-.6">getitem_10_153</text><text y="3.1">(1, 192, 96)</text></g>
<g id="u1_m2" transform="translate(239,1283)"><ellipse class="w" rx="12.5" ry="5.5"/><text class="n" y="-.6">mul_2_2035</text><text y="3.1">(1, 192, 64)</text></g>
<g id="u1_th" transform="translate(240,1304)"><ellipse class="w" rx="12.5" ry="5.5"/><text class="n" y="-.6">tanh_2_2025</text><text y="3.1">(1, 192, 64)</text></g>
<g id="u1_sg" transform="translate(243,1324)"><ellipse class="w" rx="14" ry="5.5"/><text class="n" y="-.6">sigmoid_6_2015</text><text y="3.1">(1, 192, 64)</text></g>
<g id="u1_m1" transform="translate(243,1343)"><ellipse class="w" rx="12.5" ry="5.5"/><text class="n" y="-.6">mul_1_2005</text><text y="3.1">(1, 192, 64)</text></g>
<g id="u1_sub" transform="translate(244,1365)"><ellipse class="g" rx="20" ry="8.5"/><text class="n" y="-2.4">sub_1_1995</text><text y="1.3">(1, 192, 64)</text><text y="5">params: threshold</text></g>
<g id="u1_av" transform="translate(244,1387)"><ellipse class="w" rx="12.5" ry="5.5"/><text class="n" y="-.6">add_1_1985</text><text y="3.1">(1, 192, 64)</text></g>
<g id="u1_mv" transform="translate(244,1406)"><ellipse class="w" rx="12.5" ry="5.5"/><text class="n" y="-.6">mul_1_1975</text><text y="3.1">(1, 192, 64)</text></g>
<g id="u1_ai" transform="translate(291,1406)"><ellipse class="w" rx="12.5" ry="5.5"/><text class="n" y="-.6">add_1_1965</text><text y="3.1">(1, 192, 64)</text></g>
<g id="u1_gv" transform="translate(199,1431)"><ellipse class="g" rx="20" ry="8.5"/><text class="n" y="-2.4">sigmoid_5_1955</text><text y="1.3">(64,)</text><text y="5">params: voltage_decay</text></g>
<g id="u1_zl" transform="translate(245,1431)"><ellipse class="w" rx="12.5" ry="5.5"/><text class="n" y="-.6">zeros_like_1_07</text><text y="3.1">(1, 192, 64)</text></g>
<g id="u1_mc" transform="translate(273,1431)"><ellipse class="w" rx="12.5" ry="5.5"/><text class="n" y="-.6">mul_1_1945</text><text y="3.1">(1, 192, 64)</text></g>
<g id="u1_bx" transform="translate(312,1431)"><rect class="b" x="-21" y="-10" width="42" height="20"/><text class="s n" y="-6.2">linear_1_1929</text><text class="s" y="-2.8">(1, 192, 64)</text><text class="s" y="0.6">in_features=96, out_features=64</text><text class="s" y="4">params: weight(64,96), bias(64)</text><text class="s" y="7.4">dfused: synapse.1</text></g>
<g id="u1_zr" transform="translate(239,1455)"><ellipse class="w" rx="12.5" ry="5.5"/><text class="n" y="-.6">zeros_1_06</text><text y="3.1">(1, 192, 64)</text></g>
<g id="u1_gc" transform="translate(276,1457)"><ellipse class="g" rx="20" ry="8.5"/><text class="n" y="-2.4">sigmoid_4_1937</text><text y="1.3">(64,)</text><text y="5">params: current_decay</text></g>
<g id="u1_gi" transform="translate(316,1455)"><ellipse class="w" rx="13" ry="5.5"/><text class="n" y="-.6">getitem_10_131</text><text y="3.1">(1, 192, 96)</text></g>
<g id="stack_1_108" transform="translate(144,1481)"><ellipse class="w" rx="15" ry="9.5"/><text class="n" y="-2.4">stack_1_108</text><text y="1.3">(1, 8, 192, 96)</text><text y="5">dim=1</text></g>
<g id="l8_top" transform="translate(54,1431)"><ellipse class="w" rx="12.5" ry="5.5"/><text class="n" y="-.6">mul_2_1859</text><text y="3.1">(1, 192, 96)</text></g>
<g id="l8_m2" transform="translate(65,1456)"><ellipse class="w" rx="12.5" ry="5.5"/><text class="n" y="-.6">mul_2_1849</text><text y="3.1">(1, 192, 96)</text></g>
<g id="l8_th" transform="translate(65,1480)"><ellipse class="w" rx="12.5" ry="5.5"/><text class="n" y="-.6">tanh_1_1839</text><text y="3.1">(1, 192, 96)</text></g>
<g id="l8_sg" transform="translate(70,1503)"><ellipse class="w" rx="14" ry="5.5"/><text class="n" y="-.6">sigmoid_3_1829</text><text y="3.1">(1, 192, 96)</text></g>
<g id="l8_m1" transform="translate(70,1522)"><ellipse class="w" rx="12.5" ry="5.5"/><text class="n" y="-.6">mul_1_1819</text><text y="3.1">(1, 192, 96)</text></g>
<g id="l8_sub" transform="translate(70,1544)"><ellipse class="g" rx="20" ry="8.5"/><text class="n" y="-2.4">sub_1_1809</text><text y="1.3">(1, 192, 96)</text><text y="5">params: threshold</text></g>
<g id="l8_av" transform="translate(69,1566)"><ellipse class="w" rx="12.5" ry="5.5"/><text class="n" y="-.6">add_1_1799</text><text y="3.1">(1, 192, 96)</text></g>
<g id="l8_mv" transform="translate(69,1585)"><ellipse class="w" rx="12.5" ry="5.5"/><text class="n" y="-.6">mul_1_1789</text><text y="3.1">(1, 192, 96)</text></g>
<g id="l8_gv" transform="translate(39,1606)"><ellipse class="g" rx="20" ry="8.5"/><text class="n" y="-2.4">sigmoid_2_1779</text><text y="1.3">(96,)</text><text y="5">params: voltage_decay</text></g>
<g id="l8_mvp" transform="translate(79,1606)"><ellipse class="w" rx="12.5" ry="5.5"/><text class="n" y="-.6">mul_4_1777</text><text y="3.1">(1, 192, 96)</text></g>
<g id="l8_ai" transform="translate(106,1708)"><ellipse class="w" rx="12.5" ry="5.5"/><text class="n" y="-.6">add_1_1769</text><text y="3.1">(1, 192, 96)</text></g>
<g id="l8_mc" transform="translate(106,1733)"><ellipse class="w" rx="12.5" ry="5.5"/><text class="n" y="-.6">mul_1_1757</text><text y="3.1">(1, 192, 96)</text></g>
<g id="l8_gc" transform="translate(113,1759)"><ellipse class="g" rx="20" ry="8.5"/><text class="n" y="-2.4">sigmoid_1_1749</text><text y="1.3">(96,)</text><text y="5">params: current_decay</text></g>
<g id="l8_bx" transform="translate(153,1733)"><rect class="b" x="-20" y="-10" width="40" height="20"/><text class="s n" y="-6.2">linear_1_1741</text><text class="s" y="-2.8">(1, 192, 96)</text><text class="s" y="0.6">in_features=16, out_features=96</text><text class="s" y="4">params: weight(96,16), bias(96)</text><text class="s" y="7.4">dfused: synapse.0</text></g>
<g id="l8_gi" transform="translate(159,1759)"><ellipse class="w" rx="13" ry="5.5"/><text class="n" y="-.6">getitem_1_97</text><text y="3.1">(1, 192, 16)</text></g>
<g id="l7_m2" transform="translate(58,1628)"><ellipse class="w" rx="12.5" ry="5.5"/><text class="n" y="-.6">mul_2_1727</text><text y="3.1">(1, 192, 96)</text></g>
<g id="l7_th" transform="translate(57,1648)"><ellipse class="w" rx="12.5" ry="5.5"/><text class="n" y="-.6">tanh_1_1717</text><text y="3.1">(1, 192, 96)</text></g>
<g id="l7_sg" transform="translate(53,1667)"><ellipse class="w" rx="14" ry="5.5"/><text class="n" y="-.6">sigmoid_3_1707</text><text y="3.1">(1, 192, 96)</text></g>
<g id="l7_m1" transform="translate(53,1686)"><ellipse class="w" rx="12.5" ry="5.5"/><text class="n" y="-.6">mul_1_1697</text><text y="3.1">(1, 192, 96)</text></g>
<g id="l7_sub" transform="translate(53,1708)"><ellipse class="g" rx="20" ry="8.5"/><text class="n" y="-2.4">sub_1_1687</text><text y="1.3">(1, 192, 96)</text><text y="5">params: threshold</text></g>
<g id="l7_av" transform="translate(55,1733)"><ellipse class="w" rx="12.5" ry="5.5"/><text class="n" y="-.6">add_1_1677</text><text y="3.1">(1, 192, 96)</text></g>
<g id="l7_mv" transform="translate(38,1759)"><ellipse class="w" rx="12.5" ry="5.5"/><text class="n" y="-.6">mul_1_1667</text><text y="3.1">(1, 192, 96)</text></g>
<g id="l7_ai" transform="translate(77,1759)"><ellipse class="w" rx="12.5" ry="5.5"/><text class="n" y="-.6">add_1_1657</text><text y="3.1">(1, 192, 96)</text></g>
<g id="l7_gv" transform="translate(34,1784)"><ellipse class="g" rx="20" ry="8.5"/><text class="n" y="-2.4">sigmoid_2_1647</text><text y="1.3">(96,)</text><text y="5">params: voltage_decay</text></g>
<g id="l7_mvp" transform="translate(76,1784)"><ellipse class="w" rx="12.5" ry="5.5"/><text class="n" y="-.6">mul_4_1645</text><text y="3.1">(1, 192, 96)</text></g>
<g id="l7_mc" transform="translate(107,1784)"><ellipse class="w" rx="12.5" ry="5.5"/><text class="n" y="-.6">mul_1_1635</text><text y="3.1">(1, 192, 96)</text></g>
<g id="l7_gc" transform="translate(96,1810)"><ellipse class="g" rx="20" ry="8.5"/><text class="n" y="-2.4">sigmoid_1_1627</text><text y="1.3">(96,)</text><text y="5">params: current_decay</text></g>
<g id="l7_bx" transform="translate(153,1784)"><rect class="b" x="-20" y="-10" width="40" height="20"/><text class="s n" y="-6.2">linear_1_1619</text><text class="s" y="-2.8">(1, 192, 96)</text><text class="s" y="0.6">in_features=16, out_features=96</text><text class="s" y="4">params: weight(96,16), bias(96)</text><text class="s" y="7.4">dfused: synapse.0</text></g>
<g id="l7_gi" transform="translate(155,1810)"><ellipse class="w" rx="13" ry="5.5"/><text class="n" y="-.6">getitem_1_85</text><text y="3.1">(1, 192, 16)</text></g>
<g id="l6_m2" transform="translate(50,1809)"><ellipse class="w" rx="12.5" ry="5.5"/><text class="n" y="-.6">mul_2_1605</text><text y="3.1">(1, 192, 96)</text></g>
<g id="l6_th" transform="translate(50,1831)"><ellipse class="w" rx="12.5" ry="5.5"/><text class="n" y="-.6">tanh_1_1595</text><text y="3.1">(1, 192, 96)</text></g>
<g id="l6_sg" transform="translate(47,1851)"><ellipse class="w" rx="14" ry="5.5"/><text class="n" y="-.6">sigmoid_3_1585</text><text y="3.1">(1, 192, 96)</text></g>
<g id="l6_m1" transform="translate(47,1870)"><ellipse class="w" rx="12.5" ry="5.5"/><text class="n" y="-.6">mul_1_1575</text><text y="3.1">(1, 192, 96)</text></g>
<g id="l6_sub" transform="translate(47,1892)"><ellipse class="g" rx="20" ry="8.5"/><text class="n" y="-2.4">sub_1_1565</text><text y="1.3">(1, 192, 96)</text><text y="5">params: threshold</text></g>
<g id="l6_av" transform="translate(69,1913)"><ellipse class="w" rx="12.5" ry="5.5"/><text class="n" y="-.6">add_1_1555</text><text y="3.1">(1, 192, 96)</text></g>
<g id="l6_mv" transform="translate(69,1933)"><ellipse class="w" rx="12.5" ry="5.5"/><text class="n" y="-.6">mul_1_1545</text><text y="3.1">(1, 192, 96)</text></g>
<g id="l6_ai" transform="translate(109,1933)"><ellipse class="w" rx="12.5" ry="5.5"/><text class="n" y="-.6">add_1_1535</text><text y="3.1">(1, 192, 96)</text></g>
<g id="l6_gv" transform="translate(35,1956)"><ellipse class="g" rx="20" ry="8.5"/><text class="n" y="-2.4">sigmoid_2_1525</text><text y="1.3">(96,)</text><text y="5">params: voltage_decay</text></g>
<g id="l6_mvp" transform="translate(72,1956)"><ellipse class="w" rx="12.5" ry="5.5"/><text class="n" y="-.6">mul_4_1523</text><text y="3.1">(1, 192, 96)</text></g>
<g id="l6_mc" transform="translate(109,1956)"><ellipse class="w" rx="12.5" ry="5.5"/><text class="n" y="-.6">mul_1_1513</text><text y="3.1">(1, 192, 96)</text></g>
<g id="l6_gc" transform="translate(97,1981)"><ellipse class="g" rx="20" ry="8.5"/><text class="n" y="-2.4">sigmoid_1_1505</text><text y="1.3">(96,)</text><text y="5">params: current_decay</text></g>
<g id="l6_bx" transform="translate(153,1956)"><rect class="b" x="-20" y="-10" width="40" height="20"/><text class="s n" y="-6.2">linear_1_1497</text><text class="s" y="-2.8">(1, 192, 96)</text><text class="s" y="0.6">in_features=16, out_features=96</text><text class="s" y="4">params: weight(96,16), bias(96)</text><text class="s" y="7.4">dfused: synapse.0</text></g>
<g id="l6_gi" transform="translate(156,1981)"><ellipse class="w" rx="13" ry="5.5"/><text class="n" y="-.6">getitem_1_73</text><text y="3.1">(1, 192, 16)</text></g>
<g id="l5_m2" transform="translate(54,1981)"><ellipse class="w" rx="12.5" ry="5.5"/><text class="n" y="-.6">mul_2_1483</text><text y="3.1">(1, 192, 96)</text></g>
<g id="l5_th" transform="translate(52,2003)"><ellipse class="w" rx="12.5" ry="5.5"/><text class="n" y="-.6">tanh_1_1473</text><text y="3.1">(1, 192, 96)</text></g>
<g id="l5_sg" transform="translate(66,2022)"><ellipse class="w" rx="14" ry="5.5"/><text class="n" y="-.6">sigmoid_3_1463</text><text y="3.1">(1, 192, 96)</text></g>
<g id="l5_m1" transform="translate(66,2041)"><ellipse class="w" rx="12.5" ry="5.5"/><text class="n" y="-.6">mul_1_1453</text><text y="3.1">(1, 192, 96)</text></g>
<g id="l5_sub" transform="translate(66,2063)"><ellipse class="g" rx="20" ry="8.5"/><text class="n" y="-2.4">sub_1_1443</text><text y="1.3">(1, 192, 96)</text><text y="5">params: threshold</text></g>
<g id="l5_av" transform="translate(66,2084)"><ellipse class="w" rx="12.5" ry="5.5"/><text class="n" y="-.6">add_1_1433</text><text y="3.1">(1, 192, 96)</text></g>
<g id="l5_mv" transform="translate(66,2104)"><ellipse class="w" rx="12.5" ry="5.5"/><text class="n" y="-.6">mul_1_1423</text><text y="3.1">(1, 192, 96)</text></g>
<g id="l5_ai" transform="translate(109,2104)"><ellipse class="w" rx="12.5" ry="5.5"/><text class="n" y="-.6">add_1_1413</text><text y="3.1">(1, 192, 96)</text></g>
<g id="l5_gv" transform="translate(35,2127)"><ellipse class="g" rx="20" ry="8.5"/><text class="n" y="-2.4">sigmoid_2_1403</text><text y="1.3">(96,)</text><text y="5">params: voltage_decay</text></g>
<g id="l5_mvp" transform="translate(72,2127)"><ellipse class="w" rx="12.5" ry="5.5"/><text class="n" y="-.6">mul_4_1401</text><text y="3.1">(1, 192, 96)</text></g>
<g id="l5_mc" transform="translate(108,2127)"><ellipse class="w" rx="12.5" ry="5.5"/><text class="n" y="-.6">mul_1_1391</text><text y="3.1">(1, 192, 96)</text></g>
<g id="l5_gc" transform="translate(95,2151)"><ellipse class="g" rx="20" ry="8.5"/><text class="n" y="-2.4">sigmoid_1_1383</text><text y="1.3">(96,)</text><text y="5">params: current_decay</text></g>
<g id="l5_bx" transform="translate(153,2128)"><rect class="b" x="-20" y="-10" width="40" height="20"/><text class="s n" y="-6.2">linear_1_1375</text><text class="s" y="-2.8">(1, 192, 96)</text><text class="s" y="0.6">in_features=16, out_features=96</text><text class="s" y="4">params: weight(96,16), bias(96)</text><text class="s" y="7.4">dfused: synapse.0</text></g>
<g id="l5_gi" transform="translate(155,2151)"><ellipse class="w" rx="13" ry="5.5"/><text class="n" y="-.6">getitem_1_61</text><text y="3.1">(1, 192, 16)</text></g>
<g id="l4_m2" transform="translate(50,2151)"><ellipse class="w" rx="12.5" ry="5.5"/><text class="n" y="-.6">mul_2_1361</text><text y="3.1">(1, 192, 96)</text></g>
<g id="l4_th" transform="translate(50,2174)"><ellipse class="w" rx="12.5" ry="5.5"/><text class="n" y="-.6">tanh_1_1351</text><text y="3.1">(1, 192, 96)</text></g>
<g id="l4_sg" transform="translate(47,2194)"><ellipse class="w" rx="14" ry="5.5"/><text class="n" y="-.6">sigmoid_3_1341</text><text y="3.1">(1, 192, 96)</text></g>
<g id="l4_m1" transform="translate(47,2213)"><ellipse class="w" rx="12.5" ry="5.5"/><text class="n" y="-.6">mul_1_1331</text><text y="3.1">(1, 192, 96)</text></g>
<g id="l4_sub" transform="translate(47,2235)"><ellipse class="g" rx="20" ry="8.5"/><text class="n" y="-2.4">sub_1_1321</text><text y="1.3">(1, 192, 96)</text><text y="5">params: threshold</text></g>
<g id="l4_av" transform="translate(69,2257)"><ellipse class="w" rx="12.5" ry="5.5"/><text class="n" y="-.6">add_1_1311</text><text y="3.1">(1, 192, 96)</text></g>
<g id="l4_mv" transform="translate(68,2276)"><ellipse class="w" rx="12.5" ry="5.5"/><text class="n" y="-.6">mul_1_1301</text><text y="3.1">(1, 192, 96)</text></g>
<g id="l4_ai" transform="translate(113,2276)"><ellipse class="w" rx="12.5" ry="5.5"/><text class="n" y="-.6">add_1_1291</text><text y="3.1">(1, 192, 96)</text></g>
<g id="l4_gv" transform="translate(31,2299)"><ellipse class="g" rx="20" ry="8.5"/><text class="n" y="-2.4">sigmoid_2_1281</text><text y="1.3">(96,)</text><text y="5">params: voltage_decay</text></g>
<g id="l4_mvp" transform="translate(68,2299)"><ellipse class="w" rx="12.5" ry="5.5"/><text class="n" y="-.6">mul_4_1279</text><text y="3.1">(1, 192, 96)</text></g>
<g id="l4_mc" transform="translate(113,2299)"><ellipse class="w" rx="12.5" ry="5.5"/><text class="n" y="-.6">mul_1_1269</text><text y="3.1">(1, 192, 96)</text></g>
<g id="l4_gc" transform="translate(100,2324)"><ellipse class="g" rx="20" ry="8.5"/><text class="n" y="-2.4">sigmoid_1_1261</text><text y="1.3">(96,)</text><text y="5">params: current_decay</text></g>
<g id="l4_bx" transform="translate(153,2299)"><rect class="b" x="-20" y="-10" width="40" height="20"/><text class="s n" y="-6.2">linear_1_1253</text><text class="s" y="-2.8">(1, 192, 96)</text><text class="s" y="0.6">in_features=16, out_features=96</text><text class="s" y="4">params: weight(96,16), bias(96)</text><text class="s" y="7.4">dfused: synapse.0</text></g>
<g id="l4_gi" transform="translate(156,2325)"><ellipse class="w" rx="13" ry="5.5"/><text class="n" y="-.6">getitem_1_49</text><text y="3.1">(1, 192, 16)</text></g>
<g id="l3_m2" transform="translate(58,2325)"><ellipse class="w" rx="12.5" ry="5.5"/><text class="n" y="-.6">mul_2_1239</text><text y="3.1">(1, 192, 96)</text></g>
<g id="l3_th" transform="translate(56,2346)"><ellipse class="w" rx="12.5" ry="5.5"/><text class="n" y="-.6">tanh_1_1229</text><text y="3.1">(1, 192, 96)</text></g>
<g id="l3_sg" transform="translate(66,2365)"><ellipse class="w" rx="14" ry="5.5"/><text class="n" y="-.6">sigmoid_3_1219</text><text y="3.1">(1, 192, 96)</text></g>
<g id="l3_m1" transform="translate(66,2385)"><ellipse class="w" rx="12.5" ry="5.5"/><text class="n" y="-.6">mul_1_1209</text><text y="3.1">(1, 192, 96)</text></g>
<g id="l3_sub" transform="translate(66,2407)"><ellipse class="g" rx="20" ry="8.5"/><text class="n" y="-2.4">sub_1_1199</text><text y="1.3">(1, 192, 96)</text><text y="5">params: threshold</text></g>
<g id="l3_av" transform="translate(66,2428)"><ellipse class="w" rx="12.5" ry="5.5"/><text class="n" y="-.6">add_1_1189</text><text y="3.1">(1, 192, 96)</text></g>
<g id="l3_mv" transform="translate(67,2448)"><ellipse class="w" rx="12.5" ry="5.5"/><text class="n" y="-.6">mul_1_1179</text><text y="3.1">(1, 192, 96)</text></g>
<g id="l3_ai" transform="translate(111,2448)"><ellipse class="w" rx="12.5" ry="5.5"/><text class="n" y="-.6">add_1_1169</text><text y="3.1">(1, 192, 96)</text></g>
<g id="l3_gv" transform="translate(32,2471)"><ellipse class="g" rx="20" ry="8.5"/><text class="n" y="-2.4">sigmoid_2_1159</text><text y="1.3">(96,)</text><text y="5">params: voltage_decay</text></g>
<g id="l3_mvp" transform="translate(68,2471)"><ellipse class="w" rx="12.5" ry="5.5"/><text class="n" y="-.6">mul_4_1157</text><text y="3.1">(1, 192, 96)</text></g>
<g id="l3_mc" transform="translate(111,2471)"><ellipse class="w" rx="12.5" ry="5.5"/><text class="n" y="-.6">mul_1_1147</text><text y="3.1">(1, 192, 96)</text></g>
<g id="l3_gc" transform="translate(93,2496)"><ellipse class="g" rx="20" ry="8.5"/><text class="n" y="-2.4">sigmoid_1_1139</text><text y="1.3">(96,)</text><text y="5">params: current_decay</text></g>
<g id="l3_bx" transform="translate(150.5,2471)"><rect class="b" x="-20.5" y="-10" width="41" height="20"/><text class="s n" y="-6.2">linear_1_1131</text><text class="s" y="-2.8">(1, 192, 96)</text><text class="s" y="0.6">in_features=16, out_features=96</text><text class="s" y="4">params: weight(96,16), bias(96)</text><text class="s" y="7.4">dfused: synapse.0</text></g>
<g id="l3_gi" transform="translate(153,2496)"><ellipse class="w" rx="13" ry="5.5"/><text class="n" y="-.6">getitem_1_37</text><text y="3.1">(1, 192, 16)</text></g>
<g id="l2_m2" transform="translate(48,2496)"><ellipse class="w" rx="12.5" ry="5.5"/><text class="n" y="-.6">mul_2_1117</text><text y="3.1">(1, 192, 96)</text></g>
<g id="l2_th" transform="translate(47,2518)"><ellipse class="w" rx="12.5" ry="5.5"/><text class="n" y="-.6">tanh_1_1107</text><text y="3.1">(1, 192, 96)</text></g>
<g id="l2_sg" transform="translate(43,2537)"><ellipse class="w" rx="14" ry="5.5"/><text class="n" y="-.6">sigmoid_3_1097</text><text y="3.1">(1, 192, 96)</text></g>
<g id="l2_m1" transform="translate(43,2556)"><ellipse class="w" rx="12.5" ry="5.5"/><text class="n" y="-.6">mul_1_1087</text><text y="3.1">(1, 192, 96)</text></g>
<g id="l2_sub" transform="translate(43,2578)"><ellipse class="g" rx="20" ry="8.5"/><text class="n" y="-2.4">sub_1_1077</text><text y="1.3">(1, 192, 96)</text><text y="5">params: threshold</text></g>
<g id="l2_av" transform="translate(67,2600)"><ellipse class="w" rx="12.5" ry="5.5"/><text class="n" y="-.6">add_1_1067</text><text y="3.1">(1, 192, 96)</text></g>
<g id="l2_mv" transform="translate(67,2619)"><ellipse class="w" rx="12.5" ry="5.5"/><text class="n" y="-.6">mul_1_1057</text><text y="3.1">(1, 192, 96)</text></g>
<g id="l2_ai" transform="translate(112,2619)"><ellipse class="w" rx="12.5" ry="5.5"/><text class="n" y="-.6">add_1_1047</text><text y="3.1">(1, 192, 96)</text></g>
<g id="l2_gv" transform="translate(30,2640)"><ellipse class="g" rx="20" ry="8.5"/><text class="n" y="-2.4">sigmoid_2_1037</text><text y="1.3">(96,)</text><text y="5">params: voltage_decay</text></g>
<g id="l2_mvp" transform="translate(67,2642)"><ellipse class="w" rx="12.5" ry="5.5"/><text class="n" y="-.6">mul_4_1035</text><text y="3.1">(1, 192, 96)</text></g>
<g id="l2_mc" transform="translate(107,2642)"><ellipse class="w" rx="12.5" ry="5.5"/><text class="n" y="-.6">mul_1_1025</text><text y="3.1">(1, 192, 96)</text></g>
<g id="l2_gc" transform="translate(108,2668)"><ellipse class="g" rx="20" ry="8.5"/><text class="n" y="-2.4">sigmoid_1_1017</text><text y="1.3">(96,)</text><text y="5">params: current_decay</text></g>
<g id="l2_bx" transform="translate(142.5,2643)"><rect class="b" x="-20.5" y="-10" width="41" height="20"/><text class="s n" y="-6.2">linear_1_1009</text><text class="s" y="-2.8">(1, 192, 96)</text><text class="s" y="0.6">in_features=16, out_features=96</text><text class="s" y="4">params: weight(96,16), bias(96)</text><text class="s" y="7.4">dfused: synapse.0</text></g>
<g id="l2_gi" transform="translate(153,2668)"><ellipse class="w" rx="13" ry="5.5"/><text class="n" y="-.6">getitem_1_25</text><text y="3.1">(1, 192, 16)</text></g>
<g id="l1_m2" transform="translate(67,2668)"><ellipse class="w" rx="12.5" ry="5.5"/><text class="n" y="-.6">mul_2_995</text><text y="3.1">(1, 192, 96)</text></g>
<g id="l1_th" transform="translate(68,2689)"><ellipse class="w" rx="12.5" ry="5.5"/><text class="n" y="-.6">tanh_1_985</text><text y="3.1">(1, 192, 96)</text></g>
<g id="l1_sg" transform="translate(73,2709)"><ellipse class="w" rx="14" ry="5.5"/><text class="n" y="-.6">sigmoid_3_975</text><text y="3.1">(1, 192, 96)</text></g>
<g id="l1_m1" transform="translate(70,2728)"><ellipse class="w" rx="12.5" ry="5.5"/><text class="n" y="-.6">mul_1_965</text><text y="3.1">(1, 192, 96)</text></g>
<g id="l1_sub" transform="translate(72,2750)"><ellipse class="g" rx="20" ry="8.5"/><text class="n" y="-2.4">sub_1_955</text><text y="1.3">(1, 192, 96)</text><text y="5">params: threshold</text></g>
<g id="l1_av" transform="translate(72,2771)"><ellipse class="w" rx="12.5" ry="5.5"/><text class="n" y="-.6">add_1_945</text><text y="3.1">(1, 192, 96)</text></g>
<g id="l1_mv" transform="translate(70,2791)"><ellipse class="w" rx="12.5" ry="5.5"/><text class="n" y="-.6">mul_1_935</text><text y="3.1">(1, 192, 96)</text></g>
<g id="l1_ai" transform="translate(115,2791)"><ellipse class="w" rx="12.5" ry="5.5"/><text class="n" y="-.6">add_1_925</text><text y="3.1">(1, 192, 96)</text></g>
<g id="l1_gv" transform="translate(32,2814)"><ellipse class="g" rx="20" ry="8.5"/><text class="n" y="-2.4">sigmoid_2_915</text><text y="1.3">(96,)</text><text y="5">params: voltage_decay</text></g>
<g id="l1_zl" transform="translate(70,2814)"><ellipse class="w" rx="12.5" ry="5.5"/><text class="n" y="-.6">zeros_like_1_3</text><text y="3.1">(1, 192, 96)</text></g>
<g id="l1_mc" transform="translate(98,2814)"><ellipse class="w" rx="12.5" ry="5.5"/><text class="n" y="-.6">mul_1_905</text><text y="3.1">(1, 192, 96)</text></g>
<g id="l1_bx" transform="translate(136,2814)"><rect class="b" x="-21" y="-10" width="42" height="20"/><text class="s n" y="-6.2">linear_1_897</text><text class="s" y="-2.8">(1, 192, 96)</text><text class="s" y="0.6">in_features=16, out_features=96</text><text class="s" y="4">params: weight(96,16), bias(96)</text><text class="s" y="7.4">dfused: synapse.0</text></g>
<g id="l1_zr" transform="translate(70,2839)"><ellipse class="w" rx="12.5" ry="5.5"/><text class="n" y="-.6">zeros_1_2</text><text y="3.1">(1, 192, 96)</text></g>
<g id="l1_gc" transform="translate(107,2839)"><ellipse class="g" rx="20" ry="8.5"/><text class="n" y="-2.4">sigmoid_1_887</text><text y="1.3">(96,)</text><text y="5">params: current_decay</text></g>
<g id="l1_gi" transform="translate(145,2839)"><ellipse class="w" rx="13" ry="5.5"/><text class="n" y="-.6">getitem_1_13</text><text y="3.1">(1, 192, 16)</text></g>
<g id="input_0" transform="translate(180,2864)"><ellipse class="gr" rx="15" ry="8"/><text class="n" y="-2.4">input_0</text><text y="1.3">(1, 8, 192, 16)</text><text y="5">dtype=float32</text></g>
</svg>
